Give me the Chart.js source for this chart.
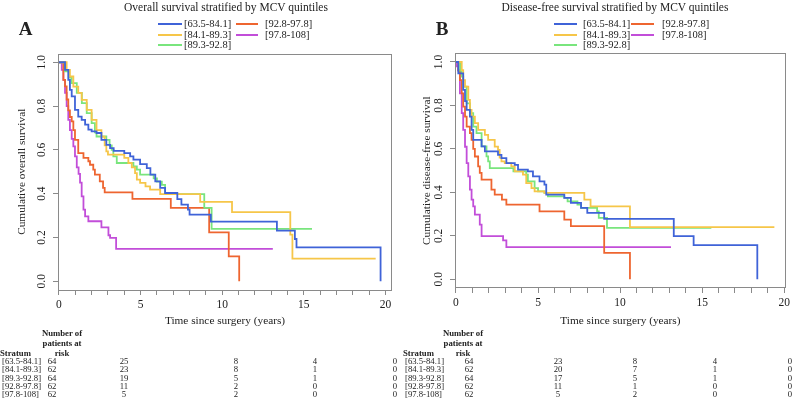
<!DOCTYPE html>
<html>
<head>
<meta charset="utf-8">
<script src="https://cdn.jsdelivr.net/npm/chart.js@4.4.1/dist/chart.umd.min.js"></script>
<style>
  body { margin: 0; background: #fff; width: 793px; height: 401px; position: relative; overflow: hidden;
         font-family: "Liberation Serif", "Times New Roman", serif; color: #222; }
  canvas { position: absolute; top: 0; }
  .t { position: absolute; white-space: nowrap; line-height: 1; }
</style>
</head>
<body>
<canvas id="osChart" width="400" height="330" style="left:0"></canvas>
<canvas id="dfsChart" width="393" height="330" style="left:400px"></canvas>
<div id="overlay"></div>
<script>
const strata = ['[63.5-84.1]', '[84.1-89.3]', '[89.3-92.8]', '[92.8-97.8]', '[97.8-108]'];
const colors = ['#3f63d8', '#f6c649', '#79e57d', '#ee6530', '#c24ed9'];

// overall survival, [years, survival] at each step
const osQ1 = [[0,1],[0.37,0.965],[0.57,0.92],[0.67,0.874],[0.78,0.844],[0.98,0.783],[1.18,0.752],[1.39,0.737],[1.6,0.715],[1.8,0.692],[2.0,0.684],[2.3,0.677],[2.6,0.646],[2.9,0.623],[3.13,0.608],[3.35,0.595],[4.0,0.585],[4.36,0.57],[4.56,0.555],[4.97,0.535],[5.38,0.517],[5.6,0.487],[5.9,0.456],[6.2,0.426],[6.5,0.403],[7.25,0.375],[7.5,0.35],[7.9,0.327],[8.0,0.304],[9.3,0.272],[13.35,0.231],[14.45,0.193],[14.55,0.155],[19.7,0]];
const osQ2 = [[0,1],[0.47,0.965],[0.67,0.935],[0.88,0.889],[1.18,0.86],[1.39,0.828],[1.7,0.783],[2.0,0.737],[2.3,0.69],[2.6,0.66],[2.8,0.62],[2.9,0.593],[3.0,0.578],[4.0,0.563],[4.25,0.54],[4.46,0.52],[4.66,0.494],[4.77,0.464],[4.97,0.449],[5.3,0.433],[5.58,0.418],[6.2,0.398],[8.65,0.362],[10.6,0.316],[14.17,0.213],[14.3,0.103],[19.4,0.103]];
const osQ3 = [[0,1],[0.37,0.958],[0.6,0.93],[0.78,0.905],[1.09,0.86],[1.4,0.813],[1.7,0.768],[2.0,0.722],[2.2,0.68],[2.3,0.661],[2.9,0.646],[3.1,0.62],[3.23,0.6],[3.33,0.57],[3.54,0.54],[4.56,0.524],[4.77,0.51],[4.97,0.487],[5.8,0.47],[6.0,0.455],[6.3,0.44],[6.5,0.398],[8.9,0.335],[9.35,0.239],[15.5,0.239]];
const osQ4 = [[0,1],[0.27,0.92],[0.37,0.89],[0.47,0.83],[0.57,0.78],[0.67,0.75],[0.78,0.73],[0.88,0.69],[0.98,0.646],[1.18,0.585],[1.5,0.563],[1.8,0.548],[1.9,0.532],[2.1,0.51],[2.2,0.487],[2.5,0.456],[2.7,0.426],[2.8,0.406],[4.5,0.376],[6.85,0.335],[9.2,0.223],[10.4,0.114],[11.04,0]];
const osQ5 = [[0,1],[0.17,0.965],[0.27,0.92],[0.37,0.86],[0.47,0.8],[0.57,0.737],[0.67,0.69],[0.78,0.65],[0.88,0.616],[0.98,0.57],[1.09,0.52],[1.2,0.49],[1.29,0.45],[1.39,0.388],[1.5,0.327],[1.6,0.296],[1.8,0.274],[2.6,0.246],[3.03,0.21],[3.13,0.198],[3.5,0.148],[13.1,0.148]];

// disease-free survival
const dfsQ1 = [[0,1],[0.14,0.948],[0.44,0.872],[0.55,0.82],[0.65,0.78],[0.85,0.749],[0.95,0.688],[1.05,0.642],[1.56,0.612],[1.76,0.589],[2.56,0.573],[2.77,0.558],[3.07,0.535],[3.58,0.527],[3.78,0.505],[4.38,0.497],[4.69,0.474],[5.09,0.451],[5.39,0.436],[5.5,0.39],[6.6,0.375],[7.0,0.352],[7.62,0.329],[8.0,0.306],[9.03,0.278],[13.27,0.199],[14.48,0.157],[18.36,0]];
const dfsQ2 = [[0,1],[0.35,0.963],[0.44,0.917],[0.55,0.887],[0.75,0.826],[0.85,0.78],[0.95,0.749],[1.15,0.719],[1.35,0.688],[1.76,0.665],[1.96,0.642],[2.36,0.611],[2.56,0.596],[2.66,0.56],[2.77,0.543],[2.97,0.535],[3.37,0.52],[3.58,0.497],[4.08,0.482],[4.28,0.443],[4.6,0.42],[4.79,0.405],[5.39,0.398],[7.82,0.367],[8.2,0.336],[10.6,0.24],[19.4,0.24]];
const dfsQ3 = [[0,1],[0.25,0.96],[0.35,0.933],[0.44,0.887],[0.65,0.81],[0.85,0.765],[1.05,0.703],[1.25,0.673],[1.56,0.612],[1.86,0.566],[1.96,0.543],[2.06,0.512],[3.5,0.497],[4.28,0.482],[4.38,0.451],[4.79,0.42],[5.0,0.405],[5.39,0.398],[5.6,0.382],[6.6,0.375],[6.8,0.359],[7.4,0.344],[7.62,0.329],[8.6,0.313],[8.7,0.283],[9.2,0.237],[15.56,0.237]];
const dfsQ4 = [[0,1],[0.14,0.96],[0.24,0.917],[0.35,0.856],[0.44,0.795],[0.55,0.749],[0.65,0.703],[0.85,0.673],[0.95,0.642],[1.05,0.6],[1.15,0.565],[1.35,0.52],[1.45,0.49],[1.56,0.459],[2.16,0.413],[2.36,0.39],[2.8,0.367],[3.07,0.344],[5.09,0.313],[6.6,0.275],[7.0,0.245],[9.03,0.122],[10.6,0]];
const dfsQ5 = [[0,1],[0.04,0.98],[0.14,0.963],[0.24,0.856],[0.35,0.765],[0.44,0.688],[0.55,0.61],[0.65,0.535],[0.75,0.474],[0.85,0.413],[0.95,0.367],[1.05,0.336],[1.15,0.298],[1.45,0.252],[1.56,0.199],[2.87,0.179],[3.07,0.148],[13.1,0.148]];

const xTicks = [0,1,2,3,4,5,6,7,8,9,10,11,12,13,14,15,16,17,18,19,20];
const yTicks = [0, 0.2, 0.4, 0.6, 0.8, 1.0];

// numbers at risk (columns under the table)
const osRisk = [[64,25,8,4,0],[62,23,8,1,0],[64,19,5,1,0],[62,11,2,0,0],[62,5,2,0,0]];
const dfsRisk = [[64,23,8,4,0],[62,20,7,1,0],[64,17,5,1,0],[62,11,1,0,0],[62,5,2,0,0]];

const serif = '"Liberation Serif", "Times New Roman", serif';
const grey = '#8a8a8a';

const framePlugin = {
  id: 'frame',
  afterDraw(chart) {
    const a = chart.chartArea, ctx = chart.ctx;
    ctx.save();
    ctx.strokeStyle = grey;
    ctx.lineWidth = 1;
    ctx.strokeRect(Math.round(a.left) + 0.5, Math.round(a.top) + 0.5,
                   Math.round(a.right - a.left) - 1, Math.round(a.bottom - a.top) - 1);
    // rotated y tick labels, like R's default axis
    ctx.fillStyle = '#222';
    ctx.font = '11.5px ' + serif;
    ctx.textAlign = 'center';
    ctx.textBaseline = 'middle';
    yTicks.forEach(v => {
      const y = chart.scales.y.getPixelForValue(v);
      ctx.save();
      ctx.translate(a.left - 16, y);
      ctx.rotate(-Math.PI / 2);
      ctx.fillText(v.toFixed(1), 0, 0);
      ctx.restore();
    });
    ctx.restore();
  }
};

function kmChart(id, curves, yTitle, geo) {
  return new Chart(document.getElementById(id), {
    type: 'line',
    data: {
      datasets: curves.map((c, i) => ({
        label: strata[i],
        data: c.map(p => ({ x: p[0], y: p[1] })),
        borderColor: colors[i],
        borderWidth: 1.8,
        stepped: true,
        pointRadius: 0,
        fill: false
      }))
    },
    options: {
      responsive: false,
      animation: false,
      layout: { padding: { top: geo.top, right: geo.right, left: 0, bottom: 0 } },
      plugins: { legend: { display: false }, tooltip: { enabled: false } },
      scales: {
        x: {
          type: 'linear', min: geo.xmin, max: geo.xmax,
          afterBuildTicks: s => { s.ticks = xTicks.map(v => ({ value: v })); },
          afterFit: s => { s.height = geo.xh; },
          grid: { drawOnChartArea: false, tickLength: 5, color: grey },
          border: { display: false },
          ticks: { autoSkip: false, maxRotation: 0, padding: 3, color: '#222',
                   font: { family: serif, size: 11.5 },
                   callback: v => (v % 5 === 0 ? String(v) : '') },
          title: { display: true, text: 'Time since surgery (years)', color: '#222',
                   font: { family: serif, size: 11.3 }, padding: { top: 0, bottom: 2 } }
        },
        y: {
          min: -0.04, max: 1.04,
          afterBuildTicks: s => { s.ticks = yTicks.map(v => ({ value: v })); },
          afterFit: s => { s.width = geo.yw; },
          grid: { drawOnChartArea: false, tickLength: 5, color: grey },
          border: { display: false },
          ticks: { display: false },
          title: { display: true, text: yTitle, color: '#222',
                   font: { family: serif, size: 11.3 }, padding: { top: geo.tp, bottom: 0 } }
        }
      }
    },
    plugins: [framePlugin]
  });
}

kmChart('osChart', [osQ1, osQ2, osQ3, osQ4, osQ5], 'Cumulative overall survival',
        { top: 53.5, right: 8, xh: 40, yw: 58, xmin: -0.06, xmax: 20.4, tp: 15 });
kmChart('dfsChart', [dfsQ1, dfsQ2, dfsQ3, dfsQ4, dfsQ5], 'Cumulative disease-free survival',
        { top: 53.3, right: 5, xh: 42, yw: 55, xmin: -0.06, xmax: 20.1, tp: 20 });

// titles, legends, letters and risk tables as text
const overlay = document.getElementById('overlay');
function put(text, x, y, size, opts) {
  opts = opts || {};
  const d = document.createElement('div');
  d.className = 't';
  d.textContent = text;
  d.style.left = x + 'px';
  d.style.top = y + 'px';
  d.style.fontSize = size + 'px';
  if (opts.bold) d.style.fontWeight = 'bold';
  d.style.transform = opts.center ? 'translate(-50%,-50%)' : 'translate(0,-50%)';
  overlay.appendChild(d);
}
function line(x1, x2, y, color) {
  const d = document.createElement('div');
  d.style.cssText = `position:absolute;left:${x1}px;top:${y - 1}px;width:${x2 - x1}px;height:2px;background:${color}`;
  overlay.appendChild(d);
}

const panels = [
  { title: 'Overall survival stratified by MCV quintiles', tx: 226, letter: 'A', lx: 25.5,
    leg: [[158, 182, 184], [236, 258, 265]], risk: osRisk, sx: 2, cols: [52, 124, 236, 315, 395], hx: 62 },
  { title: 'Disease-free survival stratified by MCV quintiles', tx: 615, letter: 'B', lx: 442,
    leg: [[554, 577, 583], [631, 654, 662]], risk: dfsRisk, sx: 405, cols: [469, 558, 635, 715, 790], hx: 463 }
];
const rowY = [361, 369.3, 377.6, 385.9, 394.2];

panels.forEach(p => {
  put(p.title, p.tx, 7.5, 11.5, { center: true });
  put(p.letter, p.lx, 28, 19, { center: true, bold: true });
  strata.forEach((s, i) => {
    const col = i < 3 ? 0 : 1, row = i < 3 ? i : i - 3;
    const y = 24 + row * 10.7;
    line(p.leg[col][0], p.leg[col][1], y, colors[i]);
    put(s, p.leg[col][2], y, 10.5);
  });
  put('Number of', p.hx, 333, 8.7, { center: true, bold: true });
  put('patients at', p.hx, 343, 8.7, { center: true, bold: true });
  put('risk', p.hx, 353, 8.7, { center: true, bold: true });
  put('Stratum', p.sx - 2, 353, 8.7, { bold: true });
  strata.forEach((s, i) => {
    put(s, p.sx, rowY[i], 8.7);
    p.risk[i].forEach((n, j) => put(String(n), p.cols[j], rowY[i], 8.7, { center: true }));
  });
});
</script>
</body>
</html>
